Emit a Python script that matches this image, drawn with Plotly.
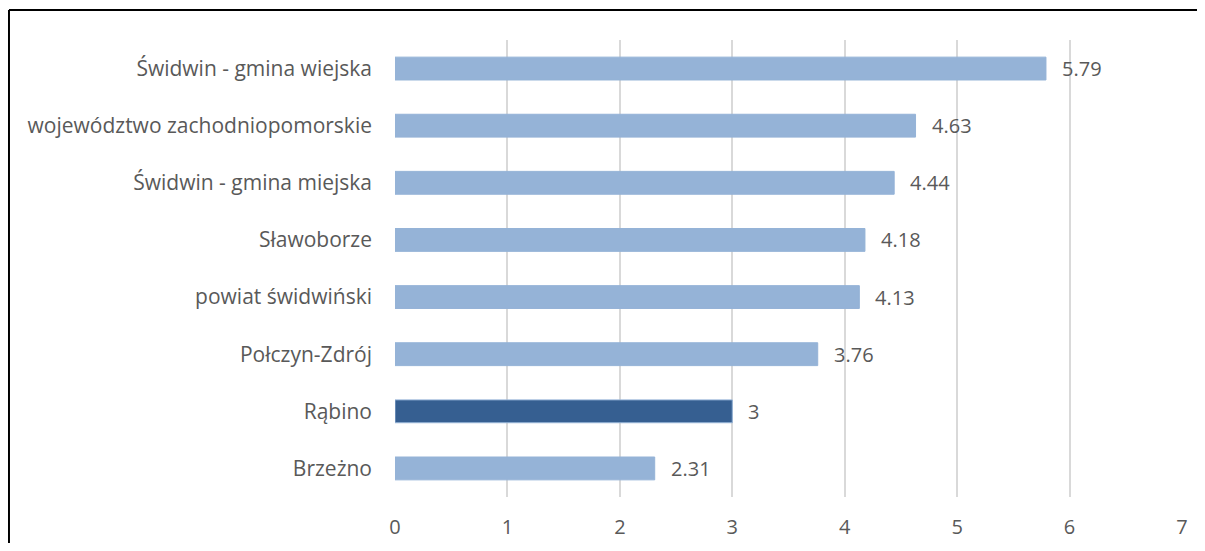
import plotly.graph_objects as go

categories = ["Brzeżno", "Rąbino", "Połczyn-Zdrój", "powiat świdwiński", "Sławoborze",
              "Świdwin - gmina miejska", "województwo zachodniopomorskie", "Świdwin - gmina wiejska"]
values = [2.31, 3, 3.76, 4.13, 4.18, 4.44, 4.63, 5.79]
highlight = "Rąbino"
x_ticks = [0, 1, 2, 3, 4, 5, 6, 7]

LIGHT = "#95B3D7"
DARK = "#365F91"
TEXT = "#595959"
FONT = "Open Sans"

colors = [DARK if c == highlight else LIGHT for c in categories]

fig = go.Figure()
fig.add_trace(go.Bar(
    y=categories, x=values, orientation="h",
    marker=dict(color=colors, line=dict(color=LIGHT, width=1)),
    width=0.4, hoverinfo="skip",
))

for c, v in zip(categories, values):
    fig.add_annotation(x=v, y=c, xref="x", yref="y", text=f"{v:g}", showarrow=False,
                       xanchor="left", xshift=14, font=dict(family=FONT, size=20, color=TEXT))

# chart frame (top and left edges visible; right and bottom lie outside the picture)
fig.add_shape(type="line", xref="paper", yref="paper", x0=-0.4905, x1=1.1, y0=1.0656, y1=1.0656,
              line=dict(color="black", width=2), layer="above")
fig.add_shape(type="line", xref="paper", yref="paper", x0=-0.4905, x1=-0.4905, y0=-0.3, y1=1.0656,
              line=dict(color="black", width=2), layer="above")

fig.update_layout(
    width=1189, height=535,
    margin=dict(l=387, r=15, t=32, b=46, autoexpand=False),
    paper_bgcolor="white", plot_bgcolor="white",
    showlegend=False,
    font=dict(family=FONT, size=20, color=TEXT),
    xaxis=dict(range=[0, 7], tickvals=x_ticks, showgrid=True, gridcolor="#D9D9D9", gridwidth=1.5,
               zeroline=False, showline=False, ticks="", ticklabelstandoff=16, automargin=False,
               tickfont=dict(family=FONT, size=20, color=TEXT), fixedrange=True),
    yaxis=dict(showgrid=False, zeroline=False, showline=False, ticks="", ticklabelstandoff=22,
               automargin=False,
               tickfont=dict(family=FONT, size=21, color=TEXT), fixedrange=True),
)

fig.write_html("out.html")
